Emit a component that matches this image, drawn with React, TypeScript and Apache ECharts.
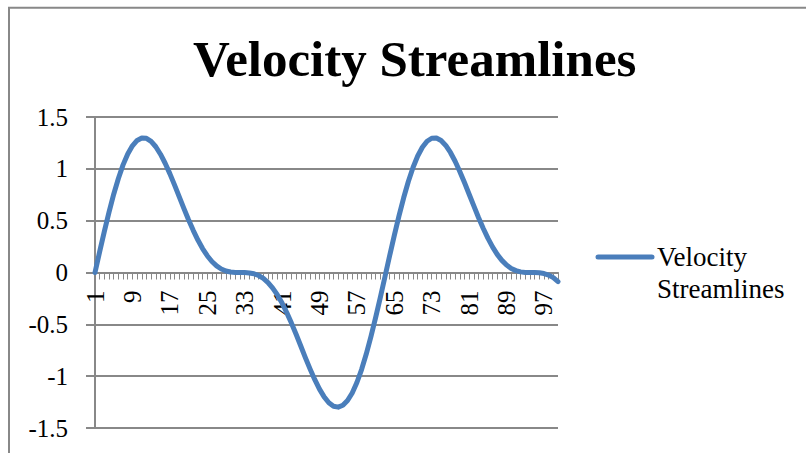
import React, { useEffect, useRef } from "react";
import * as echarts from "echarts";

const titleText = "Velocity Streamlines";
const seriesName = "Velocity Streamlines";
const legendLabel = "Velocity\nStreamlines";

const categories: string[] = Array.from({ length: 100 }, (_, i) => String(i + 1));

const velocity: number[] = [
  0, 0.201, 0.397, 0.583, 0.755, 0.907, 1.038, 1.144, 1.222, 1.274,
  1.297, 1.294, 1.265, 1.213, 1.141, 1.054, 0.954, 0.845, 0.732, 0.619,
  0.509, 0.407, 0.313, 0.231, 0.162, 0.106, 0.064, 0.034, 0.015, 0.005,
  0.001, 0, 0, -0.004, -0.012, -0.029, -0.057, -0.097, -0.15, -0.216,
  -0.295, -0.387, -0.488, -0.596, -0.709, -0.824, -0.932, -1.034, -1.125, -1.2,
  -1.256, -1.29, -1.299, -1.281, -1.235, -1.162, -1.061, -0.936, -0.787, -0.619,
  -0.436, -0.242, -0.041, 0.161, 0.358, 0.546, 0.721, 0.878, 1.013, 1.124,
  1.208, 1.266, 1.295, 1.297, 1.273, 1.226, 1.158, 1.073, 0.975, 0.868,
  0.755, 0.642, 0.531, 0.427, 0.331, 0.247, 0.175, 0.117, 0.072, 0.039,
  0.018, 0.006, 0.001, 0, 0, -0.003, -0.01, -0.025, -0.05, -0.088,
];

const yMin = -1.5;
const yMax = 1.5;
const yStep = 0.5;

const FONT = "'Liberation Serif', 'Times New Roman', serif";
const GRAY = "#888888";
const BLUE = "#4a7ebb";

const GRID_TOP = 117;
const GRID_BOTTOM = 25;
const PLOT_H = 453 - GRID_TOP - GRID_BOTTOM;

export default function App() {
  const ref = useRef<HTMLDivElement>(null);

  useEffect(() => {
    if (!ref.current) return;
    const chart = echarts.init(ref.current, null, { renderer: "svg" });
    chart.setOption({
      animation: false,
      backgroundColor: "#ffffff",
      title: {
        text: titleText,
        left: 188,
        top: 28,
        textStyle: {
          fontFamily: FONT,
          fontSize: 51,
          fontWeight: "bold",
          color: "#000000",
        },
      },
      grid: {
        left: 95,
        right: 248,
        top: GRID_TOP,
        bottom: GRID_BOTTOM,
        containLabel: false,
        outerBoundsMode: "none",
      },
      xAxis: {
        type: "category",
        data: categories,
        boundaryGap: false,
        position: "bottom",
        offset: -PLOT_H / 2,
        axisLine: { onZero: false, lineStyle: { color: GRAY, width: 2 } },
        axisTick: {
          show: true,
          interval: 0,
          length: 7,
          lineStyle: { color: GRAY, width: 1 },
        },
        axisLabel: {
          interval: 7,
          rotate: 90,
          margin: 18,
          fontFamily: FONT,
          fontSize: 25,
          color: "#000000",
        },
        splitLine: { show: false },
      },
      yAxis: {
        type: "value",
        min: yMin,
        max: yMax,
        interval: yStep,
        axisLine: { show: true, lineStyle: { color: GRAY, width: 2 } },
        axisTick: { show: true, length: 9, lineStyle: { color: GRAY, width: 2 } },
        axisLabel: {
          margin: 27,
          fontFamily: FONT,
          fontSize: 25,
          color: "#000000",
        },
        splitLine: { show: true, lineStyle: { color: GRAY, width: 2 } },
      },
      series: [
        {
          name: seriesName,
          type: "line",
          data: velocity,
          symbol: "none",
          clip: false,
          smooth: false,
          lineStyle: { color: BLUE, width: 5, cap: "round", join: "round" },
          itemStyle: { color: BLUE },
          z: 5,
        },
      ],
      graphic: [
        {
          type: "rect",
          z: -1,
          silent: true,
          shape: { x: 9, y: 7.7, width: 1000, height: 1000 },
          style: { fill: "none", stroke: GRAY, lineWidth: 2 },
        },
        {
          type: "line",
          shape: { x1: 598, y1: 257, x2: 652, y2: 257 },
          style: { stroke: BLUE, lineWidth: 5, lineCap: "round" },
        },
        {
          type: "text",
          x: 657,
          y: 241,
          style: {
            text: legendLabel,
            fontFamily: FONT,
            fontSize: 27,
            lineHeight: 32,
            fill: "#000000",
            align: "left",
            verticalAlign: "top",
          },
        },
      ],
    });
    return () => chart.dispose();
  }, []);

  return (
    <div
      ref={ref}
      style={{ position: "absolute", left: 0, top: 0, width: 806, height: 453 }}
    />
  );
}
